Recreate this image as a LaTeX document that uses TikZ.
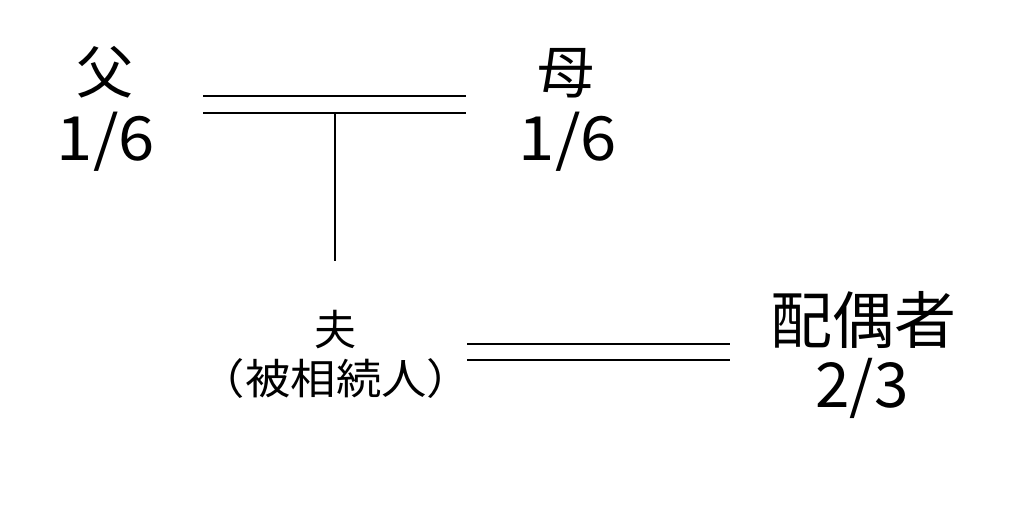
\documentclass[tikz,border=0pt]{standalone}
\usepackage{fontspec}
\setmainfont{Noto Sans CJK JP}
\usetikzlibrary{calc}
\def\share#1{\scalebox{1.07}[1]{#1}} % wide fractions under the parents
\def\wide#1{\scalebox{1.08}[1]{#1}}

\begin{document}
\begin{tikzpicture}[x=1pt,y=-1pt]

\useasboundingbox (0,0) rectangle (1024,507);
\fill[white] (0,0) rectangle (1024,507);

\tikzset{kin/.style={font=\fontsize{57}{60}\selectfont, anchor=base, inner sep=0pt},
         frac/.style={font=\fontsize{61}{64}\selectfont, anchor=base, inner sep=0pt},
         spouse/.style={font=\fontsize{62}{66}\selectfont, anchor=base, inner sep=0pt},
         deceased/.style={font=\fontsize{42}{46}\selectfont, anchor=base, inner sep=0pt}}

% parents
\node[kin] (father) at (105,93) {父};
\node[frac] (fathershare) at (106,160) {\share{1/6}};
\node[kin] (mother) at (566,93) {母};
\node[frac] (mothershare) at (568,160) {\share{1/6}};

% husband and spouse
\node[deceased] (husband) at (335,345) {夫};
\node[deceased] (heir) at (336,394) {\wide{（被相続人）}};
\node[spouse] (spouse) at (863,343) {配偶者};
\node[spouse] (spouseshare) at (862,407) {2/3};

\coordinate (pl) at (203,96);
\coordinate (pr) at (466,96);
\coordinate (ml) at (203,113);
\coordinate (mr) at (466,113);
\coordinate (drop) at (335,113);
\coordinate (dropend) at (335,261);
\coordinate (hl) at (467,344);
\coordinate (hr) at (730,344);
\coordinate (sl) at (467,360);
\coordinate (sr) at (730,360);

\draw [line width=1.9pt] (pl) -- (pr);
\draw [line width=1.4pt] (ml) -- (mr);
\draw [line width=1.4pt] (drop) -- (dropend);
\draw [line width=1.6pt] (hl) -- (hr);
\draw [line width=1.6pt] (sl) -- (sr);

\end{tikzpicture}
\end{document}
